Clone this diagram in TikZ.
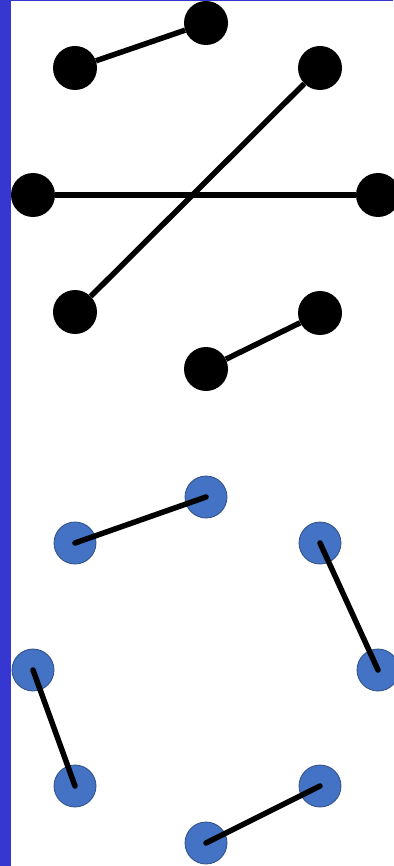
\documentclass[tikz,border=0pt]{standalone}
\begin{document}
\begin{tikzpicture}[x=1pt,y=-1pt,
  bdot/.style={circle,fill=black,minimum size=44pt,inner sep=0pt},
  udot/.style={circle,fill=blueA,draw=blueB,line width=0.8pt,minimum size=42pt,inner sep=0pt},
  link/.style={line width=5.5pt,black},
  ulink/.style={line width=5.5pt,black,line cap=round}]
\definecolor{blueA}{HTML}{4472C4}
\definecolor{blueB}{HTML}{2F4F80}
\definecolor{barblue}{HTML}{3636D0}
\useasboundingbox (0,0) rectangle (393,866);
\fill[white] (0,0) rectangle (393,866);
% black nodes
\node[bdot] (a) at (75,68) {};
\node[bdot] (b) at (206,23) {};
\node[bdot] (c) at (320,68) {};
\node[bdot] (d) at (33,195) {};
\node[bdot] (e) at (378,195) {};
\node[bdot] (f) at (75,312) {};
\node[bdot] (g) at (320,313) {};
\node[bdot] (h) at (206,369) {};
\draw[link] (a) -- (b);
\draw[link] (c) -- (f);
\draw[link] (d) -- (e);
\draw[link] (g) -- (h);
% blue nodes
\node[udot] (p) at (206,497) {};
\node[udot] (q) at (75,543) {};
\node[udot] (r) at (320,543) {};
\node[udot] (s) at (33,670) {};
\node[udot] (t) at (378,670) {};
\node[udot] (u) at (75,786) {};
\node[udot] (v) at (320,786) {};
\node[udot] (w) at (206,843) {};
\draw[ulink] (q.center) -- (p.center);
\draw[ulink] (r.center) -- (t.center);
\draw[ulink] (s.center) -- (u.center);
\draw[ulink] (v.center) -- (w.center);
% frame
\fill[barblue] (0,0) rectangle (11,866);
\fill[barblue] (0,0) rectangle (393,1.5);
\end{tikzpicture}
\end{document}
